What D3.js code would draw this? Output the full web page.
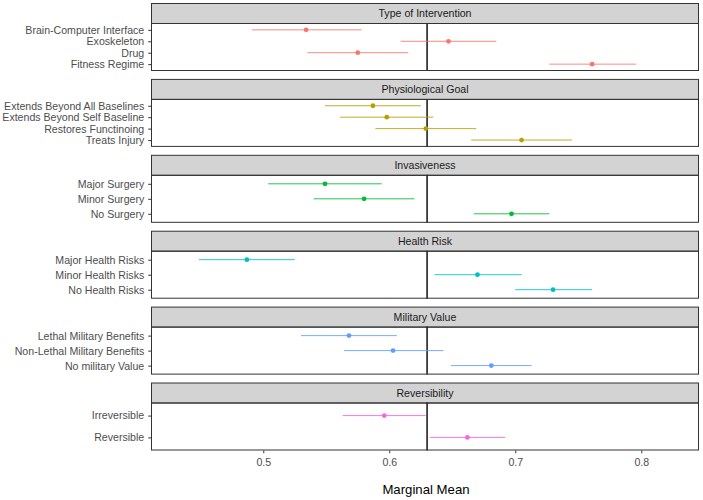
<!DOCTYPE html>
<html><head><meta charset="utf-8">
<script src="https://cdn.jsdelivr.net/npm/d3@7"></script>
<style>
body{margin:0;background:#fff}
text{font-family:"Liberation Sans",Arial,sans-serif}
</style>
</head><body>
<svg id="chart" width="703" height="500"></svg>
<script>
const features = ["Type of Intervention","Physiological Goal","Invasiveness","Health Risk","Military Value","Reversibility"];
const levels = [
  ["Brain-Computer Interface","Exoskeleton","Drug","Fitness Regime"],
  ["Extends Beyond All Baselines","Extends Beyond Self Baseline","Restores Functinoing","Treats Injury"],
  ["Major Surgery","Minor Surgery","No Surgery"],
  ["Major Health Risks","Minor Health Risks","No Health Risks"],
  ["Lethal Military Benefits","Non-Lethal Military Benefits","No military Value"],
  ["Irreversible","Reversible"]
];
const estimates = [
  [0.534,0.647,0.575,0.761],
  [0.587,0.598,0.629,0.705],
  [0.549,0.580,0.697],
  [0.487,0.670,0.730],
  [0.568,0.603,0.681],
  [0.596,0.662]
];
const lowers = [
  [0.491,0.609,0.535,0.727],
  [0.549,0.561,0.589,0.665],
  [0.504,0.540,0.667],
  [0.449,0.636,0.700],
  [0.530,0.564,0.649],
  [0.563,0.632]
];
const uppers = [
  [0.578,0.685,0.615,0.796],
  [0.625,0.635,0.669,0.745],
  [0.594,0.620,0.727],
  [0.525,0.705,0.761],
  [0.606,0.643,0.713],
  [0.629,0.692]
];
const colors = ["#F8766D","#B79F00","#00BA38","#00BFC4","#619CFF","#F564E3"];
const xTicks = [0.5,0.6,0.7,0.8];
const grandMean = 0.63;
const xDomain = [0.4109,0.8458];

const svg = d3.select("#chart");
const left = 151, right = 699;
const top0 = 3, blockStep = 75.9, stripH = 20, panelH = 48;
const fs = "10.6px";

const x = d3.scaleLinear().domain(xDomain).range([left,right]);

features.forEach((feat,i) => {
  const st = top0 + i*blockStep;
  const pt = st + stripH;
  const pb = pt + panelH;
  const y = d3.scalePoint().domain(levels[i]).range([pt,pb]).padding(0.6);
  const g = svg.append("g");
  // panel background
  g.append("rect").attr("x",left).attr("y",pt).attr("width",right-left).attr("height",panelH)
    .attr("fill","#fff");
  // strip
  g.append("rect").attr("x",left+0.5).attr("y",st+0.5).attr("width",right-left-1).attr("height",stripH)
    .attr("fill","#D3D3D3").attr("stroke","#333").attr("stroke-width",1);
  g.append("text").attr("x",(left+right)/2).attr("y",st+stripH/2+0.5).attr("dy","0.35em")
    .attr("text-anchor","middle").attr("font-size",fs).attr("fill","#1A1A1A").text(feat);
  // reference line
  g.append("line").attr("x1",x(grandMean)).attr("x2",x(grandMean)).attr("y1",pt).attr("y2",pb)
    .attr("stroke","#000").attr("stroke-width",1.4);
  // errorbars
  const rows = levels[i].map((l,j)=>({l, e:estimates[i][j], lo:lowers[i][j], hi:uppers[i][j]}));
  g.selectAll("line.err").data(rows).enter().append("line").attr("class","err")
    .attr("x1",d=>x(d.lo)).attr("x2",d=>x(d.hi)).attr("y1",d=>y(d.l)).attr("y2",d=>y(d.l))
    .attr("stroke",colors[i]).attr("stroke-width",1).attr("stroke-opacity",0.85);
  g.selectAll("circle").data(rows).enter().append("circle")
    .attr("cx",d=>x(d.e)).attr("cy",d=>y(d.l)).attr("r",2.4).attr("fill",colors[i]);
  // panel border
  g.append("rect").attr("x",left+0.5).attr("y",pt+0.5).attr("width",right-left-1).attr("height",panelH-1)
    .attr("fill","none").attr("stroke","#333").attr("stroke-width",1);
  // y axis
  const ya = g.append("g").attr("transform",`translate(${left},0)`)
    .call(d3.axisLeft(y).tickSize(2.75).tickPadding(4));
  ya.select(".domain").remove();
  ya.selectAll("line").attr("stroke","#333");
  ya.selectAll("text").attr("font-size",fs).attr("fill","#4D4D4D").attr("font-family","Liberation Sans, Arial, sans-serif");
  if (i === features.length-1) {
    const xa = g.append("g").attr("transform",`translate(0,${pb})`)
      .call(d3.axisBottom(x).tickValues(xTicks).tickSize(2.75).tickPadding(4.75).tickFormat(d3.format(".1f")));
    xa.select(".domain").remove();
    xa.selectAll("line").attr("stroke","#333");
    xa.selectAll("text").attr("font-size",fs).attr("fill","#4D4D4D").attr("font-family","Liberation Sans, Arial, sans-serif");
  }
});

svg.append("text").attr("x",(left+right)/2+1).attr("y",494).attr("text-anchor","middle")
  .attr("font-size","13.2px").attr("fill","#000").text("Marginal Mean");
</script>
</body></html>
